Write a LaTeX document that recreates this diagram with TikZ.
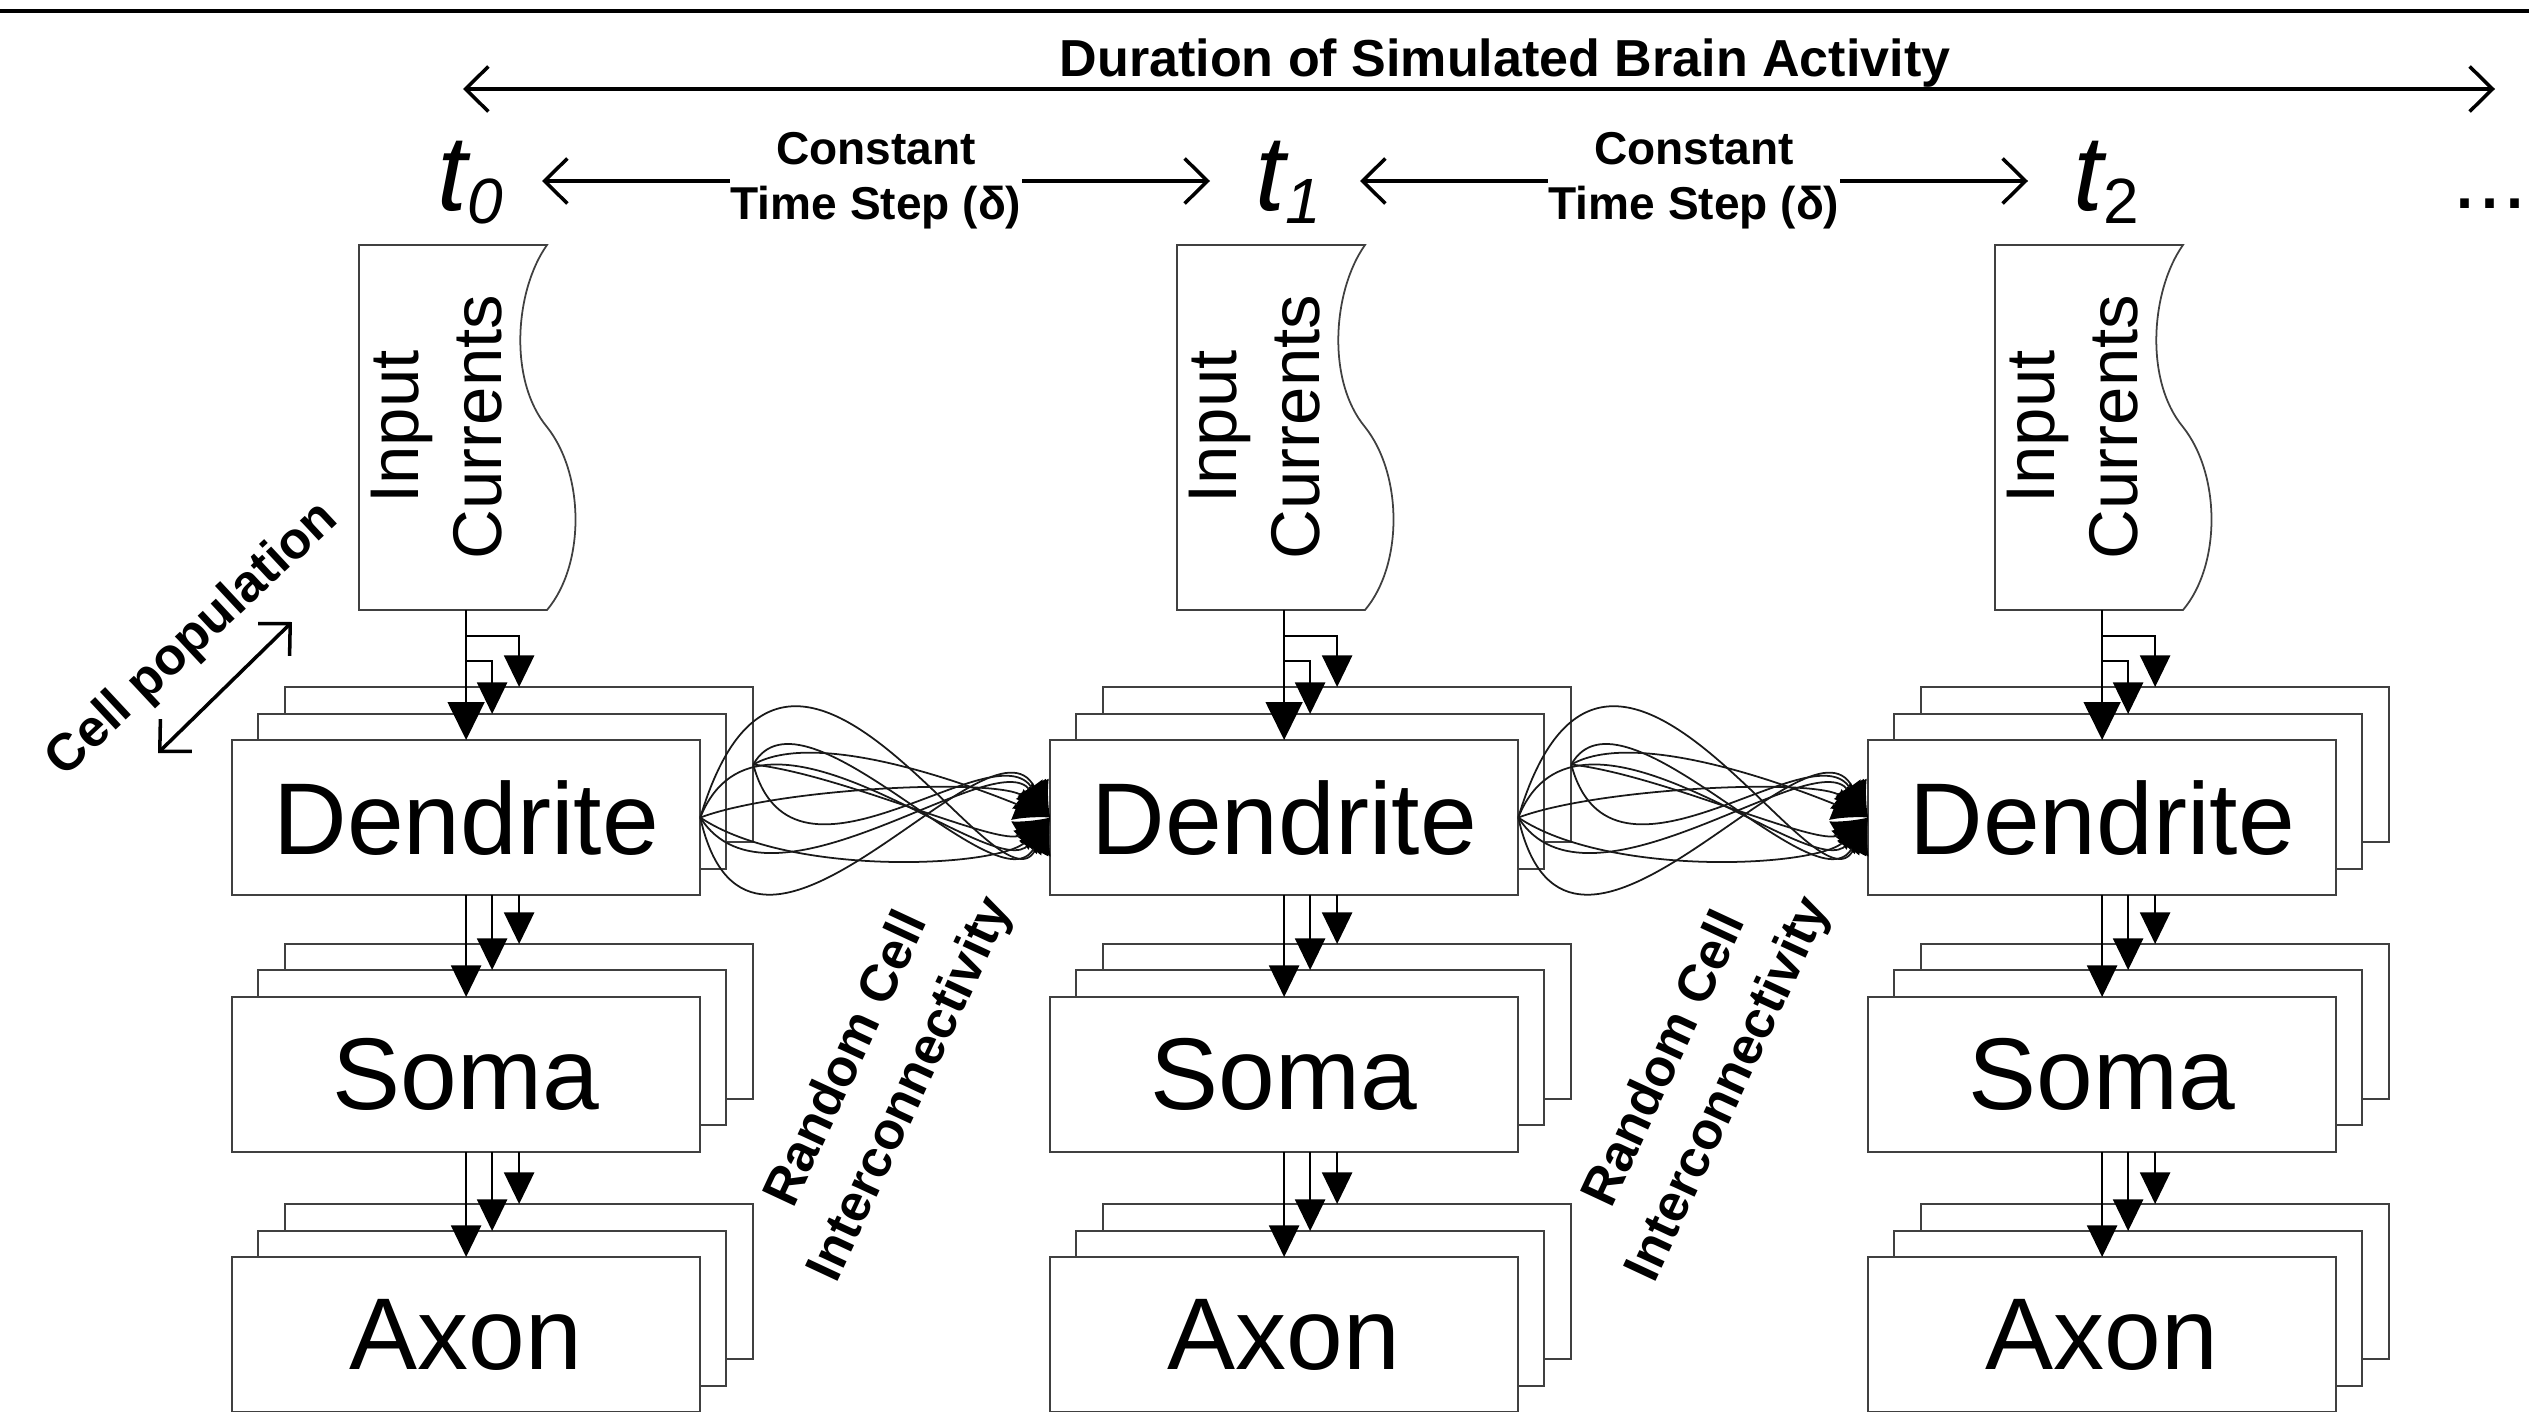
\documentclass[tikz,border=0pt]{standalone}
\usepackage{fontspec}
\setmainfont{Liberation Sans}
\usetikzlibrary{arrows.meta}
\tikzset{
  dimtip/.tip={Straight Barb[length=6.5pt,width=12.8pt]},
}
\begin{document}
\begin{tikzpicture}[x=0.01cm,y=-0.01cm,
  box/.style={draw=black!75, line width=0.6pt, fill=white, minimum width=4.68cm, minimum height=1.55cm, inner sep=0pt, outer sep=0pt, anchor=north west, font=\fontsize{29}{34}\selectfont},
  flow/.style={draw=black, line width=0.5pt, -{Triangle[length=9pt,width=8.6pt]}},
  bigflow/.style={draw=black, line width=0.5pt, -{Triangle[length=10.8pt,width=10.5pt]}},
  link/.style={draw=black!90, line width=0.5pt, -{Latex[length=10pt,width=9.5pt,color=black]}},
  dimline/.style={line width=1pt},
  docline/.style={draw=black!75, line width=0.5pt},
  lbl/.style={font=\bfseries\fontsize{14.8}{20}\selectfont, align=center, inner sep=0pt},
  ctslbl/.style={font=\bfseries\fontsize{13.1}{15.6}\selectfont, align=center, inner sep=0pt, fill=white},
]
\useasboundingbox (0,0) rectangle (2529,1412);
\clip (0,0) rectangle (2529,1412);

% top rule
\coordinate (ruleL) at (0,11);
\coordinate (ruleR) at (2529,11);
\draw[line width=1pt] (ruleL) -- (ruleR);

% duration arrow
\coordinate (durL) at (463,89);
\coordinate (durR) at (2495,89);
\draw[dimline, dimtip-dimtip] (durL) -- (durR);
\node[lbl, anchor=base] (dur) at (1505,76) {Duration of Simulated Brain Activity};

% time labels
\foreach \i/\ox/\sb in {1/0/\itshape 0, 2/818/\itshape 1, 3/1636/\upshape 2}{
  \node[anchor=base west, inner sep=0pt] (t\i) at (437+\ox,210)
    {\fontsize{30.5}{31}\selectfont\itshape t\raisebox{-3.7pt}{\fontsize{18.2}{19}\selectfont\sb}};
}
\node[anchor=base west, inner sep=0pt, font=\fontsize{25.6}{26}\selectfont] (dots) at (2452,208) {...};

% constant time step arrows
\foreach \i/\ox in {1/0, 2/818}{
  \node[ctslbl] (cts\i) at (876+\ox,181) {Constant\\Time Step (δ)};
  \coordinate (ctl\i) at (542+\ox,181);
  \coordinate (ctr\i) at (1210+\ox,181);
  \draw[dimline, -dimtip] (cts\i.west) -- (ctl\i);
  \draw[dimline, -dimtip] (cts\i.east) -- (ctr\i);
}

% columns
\foreach \i/\ox in {1/0, 2/818, 3/1636}{
  % input currents document shape
  \draw[docline] (359+\ox,245) -- (547+\ox,245)
     .. controls (515+\ox,290) and (508+\ox,380) .. (547+\ox,427)
     .. controls (585+\ox,475) and (585+\ox,565) .. (547+\ox,610)
     -- (359+\ox,610) -- cycle;
  \node[rotate=90, align=center, inner sep=0pt, font=\fontsize{19.6}{23.6}\selectfont] (ic\i) at (437+\ox,427) {Input\\Currents};
  \coordinate (s\i) at (466+\ox,610);
  \coordinate (b\i) at (466+\ox,636);
  \coordinate (m\i) at (466+\ox,661);
  % stacks
  \node[box] (Dc\i) at (285+\ox,687) {};
  \node[box] (Db\i) at (258+\ox,714) {};
  \node[box] (D\i)  at (232+\ox,740) {Dendrite};
  \node[box] (Sc\i) at (285+\ox,944) {};
  \node[box] (Sb\i) at (258+\ox,970) {};
  \node[box] (S\i)  at (232+\ox,997) {Soma};
  \node[box] (Ac\i) at (285+\ox,1204) {};
  \node[box] (Ab\i) at (258+\ox,1231) {};
  \node[box] (A\i)  at (232+\ox,1257) {Axon};
  % flows
  \draw[line width=0.5pt] (s\i) -- (b\i);
  \draw[bigflow] (s\i) -- (D\i.north);
  \draw[flow] (b\i) -| (Dc\i.north);
  \draw[flow] (m\i) -| (Db\i.north);
  \draw[flow] (D\i.south) -- (S\i.north);
  \draw[flow] (D\i.south -| Sb\i.north) -- (Sb\i.north);
  \draw[flow] (D\i.south -| Sc\i.north) -- (Sc\i.north);
  \draw[flow] (S\i.south) -- (A\i.north);
  \draw[flow] (S\i.south -| Ab\i.north) -- (Ab\i.north);
  \draw[flow] (S\i.south -| Ac\i.north) -- (Ac\i.north);
}

% random interconnectivity
\foreach \i/\j/\ox in {1/2/0, 2/3/818}{
  \draw[link] (D\i.east) .. controls +(90,-300) and +(-50,110) .. (D\j.west);
  \draw[link] (D\i.east) .. controls +(50,223) and +(-60,-117) .. (D\j.west);
  \draw[link] (D\i.east) .. controls +(60,-150) and +(-55,70) .. (D\j.west);
  \draw[link] (D\i.east) .. controls +(80,-30) and +(-50,-40) .. (D\j.west);
  \draw[link] (D\i.east) .. controls +(70,110) and +(-55,-75) .. (D\j.west);
  \draw[link] (D\i.east) .. controls +(90,60) and +(-50,50) .. (D\j.west);
  \draw[link] (Dc\i.east) .. controls +(50,-90) and +(-50,95) .. (D\j.west);
  \draw[link] (Dc\i.east) .. controls +(40,150) and +(-55,-90) .. (D\j.west);
  \draw[link] (Dc\i.east) .. controls +(90,10) and +(-50,30) .. (D\j.west);
  \draw[link] (Dc\i.east) .. controls +(70,-40) and +(-50,-20) .. (D\j.west);
  \node[lbl, rotate=65] (rc\i) at (880+\ox,1075) {Random Cell\\Interconnectivity};
}

% cell population
\node[lbl, rotate=43] (cp) at (193,640) {Cell population};
\coordinate (cpa) at (158,753);
\coordinate (cpb) at (292,622);
\draw[dimline, dimtip-dimtip] (cpa) -- (cpb);
\end{tikzpicture}
\end{document}
